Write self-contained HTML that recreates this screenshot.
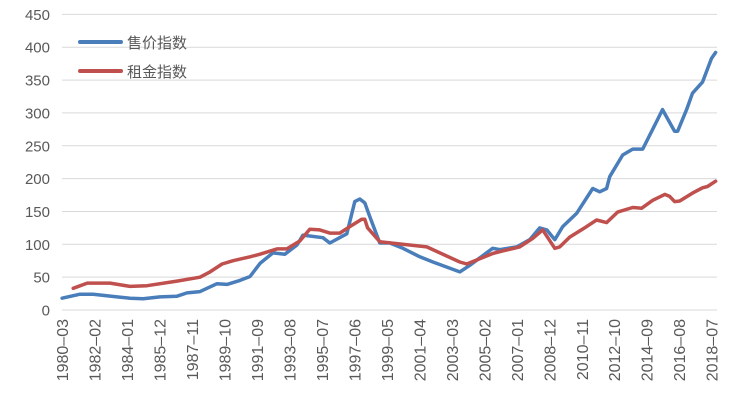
<!DOCTYPE html>
<html><head><meta charset="utf-8"><style>
body{margin:0;background:#fff;}
svg{display:block;font-family:"Liberation Sans","Noto Sans CJK SC",sans-serif;}
</style></head><body>
<svg id="chart" width="735" height="410" viewBox="0 0 735 410" xmlns="http://www.w3.org/2000/svg">
<g id="grid"></g>
<g id="yaxis"></g>
<g id="xaxis"></g>
<g id="series"></g>
<g>
  <line x1="80" y1="42" x2="121" y2="42" stroke="#4a7ebb" stroke-width="4" stroke-linecap="round"/>
  <text x="127" y="48" font-size="15" fill="#595959">售价指数</text>
  <line x1="80" y1="71" x2="121" y2="71" stroke="#c0504d" stroke-width="4" stroke-linecap="round"/>
  <text x="127" y="77" font-size="15" fill="#595959">租金指数</text>
</g>
</svg>
<script>
const yTicks=[0,50,100,150,200,250,300,350,400,450];
const xTickLabels=["1980-03","1982-02","1984-01","1985-12","1987-11","1989-10","1991-09","1993-08","1995-07","1997-06","1999-05","2001-04","2003-03","2005-02","2007-01","2008-12","2010-11","2012-10","2014-09","2016-08","2018-07"];
const priceYears=[1980.17,1981.23,1982.0,1983.41,1984.18,1984.95,1985.95,1986.95,1987.54,1988.31,1989.31,1989.9,1990.67,1991.26,1991.85,1992.61,1993.32,1994.03,1994.38,1995.56,1995.97,1996.97,1997.44,1997.74,1998.03,1998.33,1998.92,1999.51,2000.28,2001.28,2002.05,2003.64,2004.23,2005.58,2006.0,2007.0,2007.76,2008.35,2008.77,2009.24,2009.71,2010.53,2011.48,2011.89,2012.3,2012.48,2013.25,2013.84,2014.43,2015.25,2015.6,2016.31,2016.49,2017.02,2017.37,2017.96,2018.49,2018.73];
const priceValues=[18,24,24,20,18,17,20,21,26,28,40,39,45,51,71,87,85,99,114,110,102,116,165,169,163,142,102,102,94,81,73,58,68,94,92,96,107,125,122,107,127,147,185,180,185,203,236,245,245,287,305,272,272,305,330,347,383,392];
const rentYears=[1980.83,1981.66,1983.0,1984.18,1985.18,1986.95,1988.31,1988.9,1989.61,1990.26,1991.26,1991.85,1992.85,1993.43,1994.2,1994.79,1995.38,1995.97,1996.56,1997.15,1997.85,1998.03,1998.2,1998.92,2001.69,2003.64,2004.05,2005.58,2006.17,2007.17,2007.94,2008.53,2009.24,2009.53,2010.12,2011.12,2011.71,2012.3,2012.95,2013.84,2014.37,2015.02,2015.73,2016.02,2016.31,2016.61,2017.37,2017.96,2018.25,2018.73];
const rentValues=[33,41,41,36,37,44,50,58,70,75,81,85,93,93,105,123,122,117,117,127,138,138,125,104,96,73,70,86,90,96,109,122,94,96,111,127,137,133,149,156,155,167,176,173,165,166,178,186,188,196];

const NS="http://www.w3.org/2000/svg";
const x0=62,x1=717,y0=310,y1=14.4;
const t0=1980+2/12, monthPx=(711.7-62)/(20*23);
const xs=yr=>x0+(yr-t0)*12*monthPx;
const ys=v=>y0-(v/450)*(y0-y1);
function mk(tag,attrs,parent){const e=document.createElementNS(NS,tag);for(const k in attrs)e.setAttribute(k,attrs[k]);parent.appendChild(e);return e;}
const grid=document.getElementById('grid'),ya=document.getElementById('yaxis'),xa=document.getElementById('xaxis'),ser=document.getElementById('series');
yTicks.forEach(v=>{
  const l=mk('line',{x1:x0,x2:x1,y1:ys(v),y2:ys(v),stroke:'#d9d9d9','stroke-width':1},grid);
  
  
  const t=mk('text',{x:50,y:ys(v)+5.5,'text-anchor':'end','font-size':15,fill:'#595959'},ya);
  t.textContent=v;
  
  
});
xTickLabels.forEach((s,i)=>{
  const x=x0+i*23*monthPx;
  const t=mk('text',{x:0,y:0,'text-anchor':'end','font-size':16,fill:'#595959',transform:`translate(${x+6},${319}) rotate(-90)`},xa);
  t.textContent=s.replace('-','–');
  
  
});
function line(years,vals,color,name){
  const d=years.map((y,i)=>(i?'L':'M')+xs(y).toFixed(1)+','+ys(vals[i]).toFixed(1)).join('');
  const p=mk('path',{d:d,fill:'none',stroke:color,'stroke-width':3.5,'stroke-linejoin':'round','stroke-linecap':'round'},ser);
  
  
}
line(priceYears,priceValues,'#4a7ebb','price-index-line');
line(rentYears,rentValues,'#c0504d','rent-index-line');
</script>
</body></html>
